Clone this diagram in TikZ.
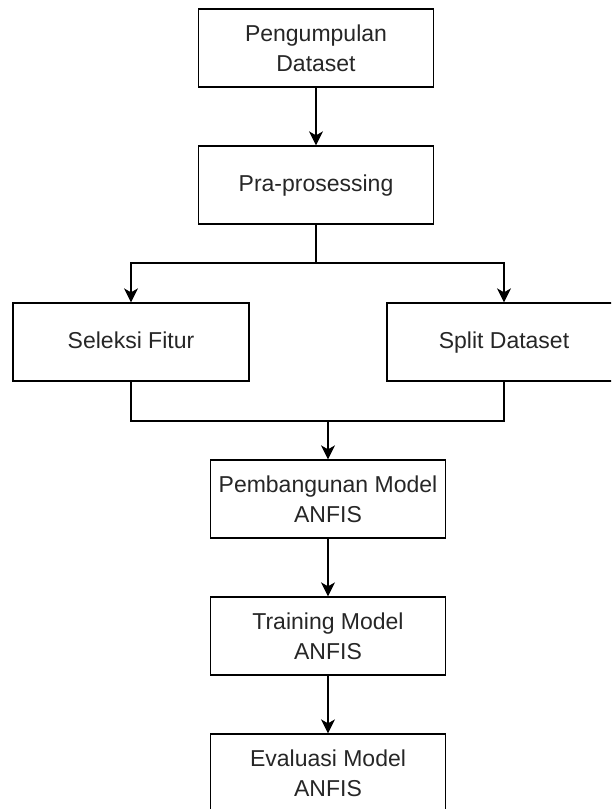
\documentclass[tikz,border=0pt]{standalone}
\usepackage{fontspec}
\setmainfont{Liberation Sans}
\usetikzlibrary{arrows.meta}

\tikzset{
	box/.style={draw, line width=1.3pt, minimum width=235pt, minimum height=78pt,
		align=center, inner sep=2pt, font=\fontsize{23}{30}\selectfont, text=black!85},
	oneline/.style={text height=17pt, text depth=5pt},
	link/.style={line width=1.3pt},
	arrow/.style={link, -{Stealth[length=14pt, width=14pt, inset=4pt]}}
}

\begin{document}
\begin{tikzpicture}[x=1pt, y=-1pt]

	\clip (0,0) rectangle (611,809);

	\node[box] (kumpul)  at (316,48)  {Pengumpulan\\Dataset};
	\node[box, oneline] (pra) at (316,185) {Pra-prosessing};

	\node[box, oneline, minimum width=236pt] (seleksi) at (131,342) {Seleksi Fitur};
	\node[box, oneline, minimum width=234pt] (split)   at (504,342) {Split Dataset};

	\node[box] (bangun)  at (328,499) {Pembangunan Model\\ANFIS};
	\node[box] (latih)   at (328,636) {Training Model\\ANFIS};
	\node[box] (eval)    at (328,773) {Evaluasi Model\\ANFIS};

	% titik cabang dan titik gabung
	\coordinate (cabang) at (316,263);
	\coordinate (gabung) at (328,421);

	\draw[arrow] (kumpul) -- (pra);

	\draw[link]  (pra.south) -- (cabang);
	\draw[arrow] (cabang) -| (seleksi.north);
	\draw[arrow] (cabang) -| (split.north);

	\draw[link]  (seleksi.south) |- (gabung);
	\draw[link]  (split.south) |- (gabung);
	\draw[arrow] (gabung) -- (bangun);

	\draw[arrow] (bangun) -- (latih);
	\draw[arrow] (latih) -- (eval);

\end{tikzpicture}
\end{document}
